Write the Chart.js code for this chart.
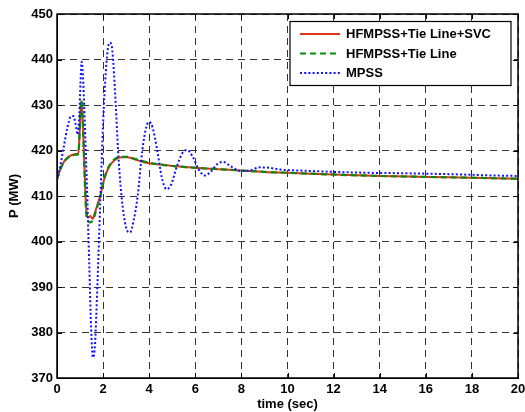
<!DOCTYPE html>
<html>
<head>
<meta charset="utf-8">
<script src="https://cdn.jsdelivr.net/npm/chart.js@4.4.0/dist/chart.umd.min.js"></script>
<style>
    body { margin: 0; background: #fff; }
</style>
</head>
<body>
<canvas id="myChart" width="525" height="412"></canvas>
<script>
    // time axis for MPSS curve (sec) and its power (MW)
    const tMpss = [0, 0.15, 0.3, 0.45, 0.6, 0.7, 0.8, 0.9, 0.97, 1.02, 1.07, 1.12, 1.2, 1.3, 1.4, 1.48, 1.56, 1.65, 1.75, 1.88, 2.0, 2.12, 2.22, 2.3, 2.4, 2.55, 2.65, 2.8, 3.0, 3.17, 3.32, 3.5, 3.7, 3.88, 4.0, 4.15, 4.35, 4.55, 4.75, 4.95, 5.2, 5.45, 5.65, 5.9, 6.15, 6.42, 6.7, 6.95, 7.2, 7.55, 7.95, 8.35, 8.8, 9.2, 9.7, 10.5, 12, 13.5, 15, 17, 19, 20];
    const pMpss = [413.4, 416.8, 421, 425, 427.5, 427.6, 426, 423.5, 428, 435, 439.5, 437, 427, 412, 395, 381, 374.5, 377.5, 390, 409, 426, 437.5, 442.8, 443.7, 442, 430, 420, 410, 403, 402, 404.5, 410, 420, 425.3, 426.3, 425, 420, 414, 411.5, 412.5, 416.5, 419.5, 420.1, 418.5, 415.8, 414.5, 415.5, 417, 417.5, 416.5, 415.5, 415.6, 416.3, 416.2, 415.8, 415.6, 415.3, 415.1, 415.0, 414.8, 414.5, 414.4];

    // time axis for the two HFMPSS curves
    const tHf = [0, 0.1, 0.2, 0.35, 0.5, 0.65, 0.8, 0.92, 0.96, 1.0, 1.05, 1.09, 1.13, 1.18, 1.23, 1.28, 1.35, 1.45, 1.55, 1.65, 1.78, 1.9, 2.0, 2.12, 2.25, 2.4, 2.6, 2.8, 3.05, 3.3, 3.6, 4.0, 4.5, 5.0, 5.5, 6.0, 7.0, 8.0, 9.0, 10, 11, 12, 14, 16, 18, 20];
    const pSvc = [413.8, 415.3, 416.6, 417.9, 418.6, 419.0, 419.2, 419.3, 421.5, 426, 430.8, 429.5, 425, 418, 411, 406.5, 405.3, 405.6, 405.0, 406.4, 408.5, 410.5, 412.8, 414.8, 416.3, 417.4, 418.2, 418.5, 418.5, 418.2, 417.7, 417.2, 416.9, 416.6, 416.4, 416.2, 415.9, 415.6, 415.3, 415.1, 414.9, 414.7, 414.4, 414.2, 414.0, 413.8];
    const pTie = [413.7, 415.2, 416.5, 417.8, 418.5, 418.9, 419.1, 419.2, 421.5, 426.5, 431.0, 429.5, 424.5, 417, 410, 405.5, 404.5, 404.2, 404.6, 406.0, 408.2, 410.3, 412.8, 414.9, 416.5, 417.6, 418.4, 418.6, 418.6, 418.3, 417.8, 417.3, 416.9, 416.6, 416.4, 416.2, 415.9, 415.6, 415.3, 415.1, 414.9, 414.7, 414.4, 414.2, 414.0, 413.8];

    const seriesNames = ['HFMPSS+Tie Line+SVC', 'HFMPSS+Tie Line', 'MPSS'];
    const xTicks = [0, 2, 4, 6, 8, 10, 12, 14, 16, 18, 20];
    const yTicks = [370, 380, 390, 400, 410, 420, 430, 440, 450];

    function pairs(t, p) {
        var out = [];
        for (var i = 0; i < t.length; i++) {
            out.push({x: t[i], y: p[i]});
        }
        return out;
    }

    const boldFont = {family: 'Liberation Sans, Arial, sans-serif', size: 13, weight: 'bold'};

    // solid box round the plot plus small inward ticks, like matlab axes
    const frame = {
        id: 'frame',
        afterDatasetsDraw(chart) {
            const c = chart.ctx;
            const a = chart.chartArea;
            const xs = chart.scales.x, ys = chart.scales.y;
            c.save();
            c.strokeStyle = '#000';
            c.lineWidth = 1;
            c.setLineDash([]);
            c.beginPath();
            xTicks.forEach(function (v) {
                var px = Math.round(xs.getPixelForValue(v)) + 0.5;
                c.moveTo(px, a.bottom); c.lineTo(px, a.bottom - 5);
                c.moveTo(px, a.top); c.lineTo(px, a.top + 5);
            });
            yTicks.forEach(function (v) {
                var py = Math.round(ys.getPixelForValue(v)) + 0.5;
                c.moveTo(a.left, py); c.lineTo(a.left + 5, py);
                c.moveTo(a.right, py); c.lineTo(a.right - 5, py);
            });
            c.stroke();
            c.lineWidth = 1.5;
            c.strokeRect(a.left, a.top, a.right - a.left, a.bottom - a.top);
            c.restore();
        }
    };

    // legend box inside the top right corner
    const legendBox = {
        id: 'legendBox',
        afterDraw(chart) {
            const c = chart.ctx;
            const a = chart.chartArea;
            const bx = a.right - 228, by = a.top + 7.5, bw = 221, bh = 64;
            c.save();
            c.fillStyle = '#fff';
            c.fillRect(bx, by, bw, bh);
            c.strokeStyle = '#000';
            c.lineWidth = 1.2;
            c.strokeRect(bx, by, bw, bh);
            c.font = 'bold 13px "Liberation Sans", Arial, sans-serif';
            c.textBaseline = 'middle';
            c.fillStyle = '#000';
            const rows = [20, 39.5, 59];
            chart.data.datasets.forEach(function (ds, i) {
                var yy = a.top + rows[i];
                c.strokeStyle = ds.borderColor;
                c.lineWidth = ds.borderWidth;
                c.setLineDash(ds.borderDash || []);
                c.beginPath();
                c.moveTo(bx + 10, yy);
                c.lineTo(bx + 50, yy);
                c.stroke();
                c.setLineDash([]);
                c.fillText(ds.label, bx + 56, yy + 0.5);
            });
            c.restore();
        }
    };

    const ctx = document.getElementById('myChart');
    var chart = new Chart(ctx, {
        type: 'line',
        data: {
            datasets: [{
                    label: seriesNames[0],
                    data: pairs(tHf, pSvc),
                    borderColor: '#e2321c',
                    borderWidth: 2,
                    order: 3
                }, {
                    label: seriesNames[1],
                    data: pairs(tHf, pTie),
                    borderColor: '#0a8a0a',
                    borderWidth: 2.2,
                    borderDash: [6, 4],
                    order: 2
                }, {
                    label: seriesNames[2],
                    data: pairs(tMpss, pMpss),
                    borderColor: '#1010ff',
                    borderWidth: 2,
                    borderDash: [2, 2.2],
                    order: 1
                }]
        },
        options: {
            responsive: false,
            animation: false,
            layout: {padding: {left: 0, top: 14, right: 7, bottom: 0}},
            elements: {
                point: {radius: 0},
                line: {cubicInterpolationMode: 'monotone', fill: false}
            },
            plugins: {
                legend: {display: false},
                tooltip: {enabled: false}
            },
            scales: {
                x: {
                    type: 'linear',
                    min: 0,
                    max: 20,
                    afterBuildTicks: function (s) {
                        s.ticks = xTicks.map(function (v) { return {value: v}; });
                    },
                    afterFit: function (s) {
                        s.height = 34;
                        s.paddingLeft = 0;
                        s.paddingRight = 0;
                    },
                    ticks: {color: '#000', font: boldFont, padding: 4, maxRotation: 0},
                    grid: {color: '#333', lineWidth: 1, drawTicks: false},
                    border: {display: true, color: '#000', dash: [7, 5]},
                    title: {display: true, text: 'time (sec)', color: '#000', font: boldFont, padding: {top: 0, bottom: 0}}
                },
                y: {
                    min: 370,
                    max: 450,
                    afterBuildTicks: function (s) {
                        s.ticks = yTicks.map(function (v) { return {value: v}; });
                    },
                    afterFit: function (s) {
                        s.width = 57;
                        s.paddingTop = 0;
                        s.paddingBottom = 0;
                    },
                    ticks: {color: '#000', font: boldFont, padding: 4},
                    grid: {color: '#333', lineWidth: 1, drawTicks: false},
                    border: {display: true, color: '#000', dash: [7, 5]},
                    title: {display: true, text: 'P (MW)', color: '#000', font: boldFont, padding: {top: 7, bottom: 0}}
                }
            }
        },
        plugins: [frame, legendBox]
    });
</script>
</body>
</html>
